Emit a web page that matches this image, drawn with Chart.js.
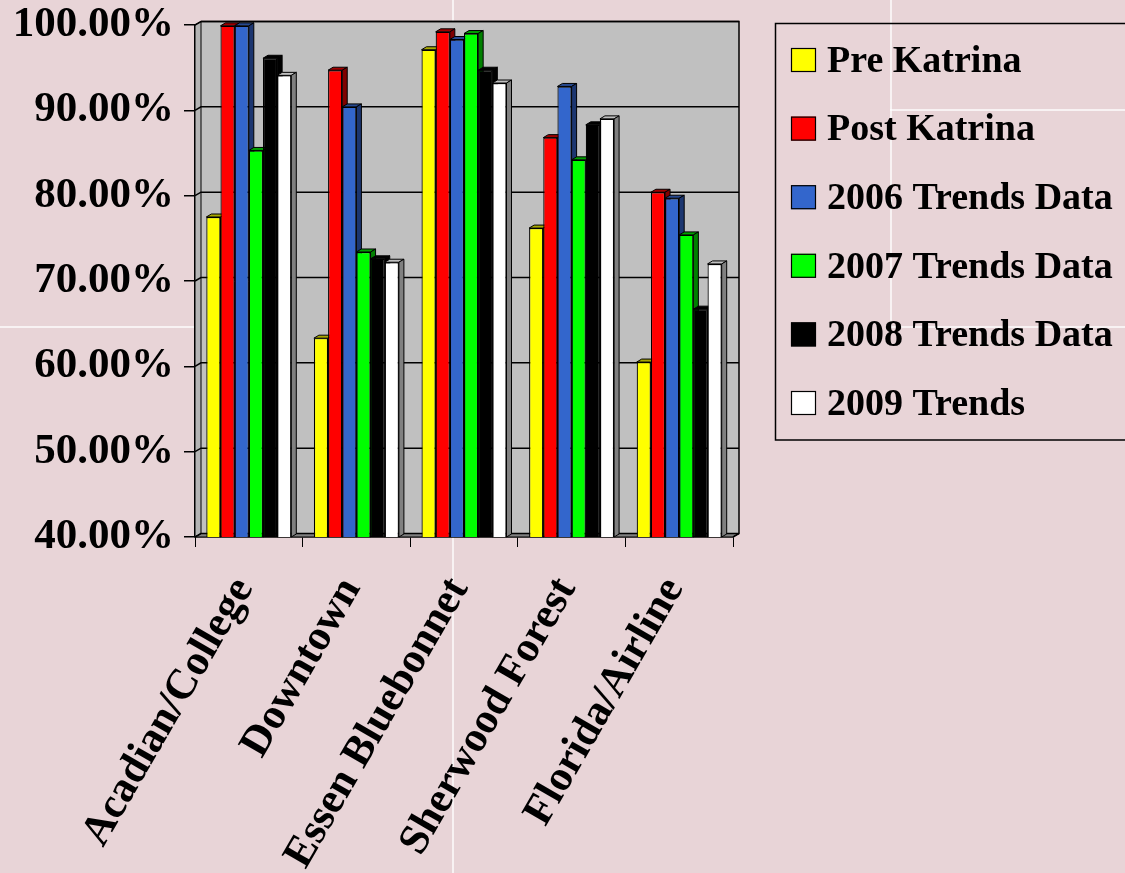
<!DOCTYPE html>
<html>
<head>
<meta charset="utf-8">
<script src="https://cdn.jsdelivr.net/npm/chart.js@4.4.1/dist/chart.umd.min.js"></script>
<style>
html,body{margin:0;padding:0;background:#E8D4D7;width:1125px;height:873px;overflow:hidden;}
#wrap{position:relative;width:1125px;height:873px;}
.ln{position:absolute;background:rgba(255,255,255,0.7);}
canvas{position:absolute;left:0;top:0;}
</style>
</head>
<body>
<div id="wrap">
<div class="ln" style="left:452px;top:0;width:2px;height:873px"></div>
<div class="ln" style="left:0;top:326px;width:453px;height:2px"></div>
<div class="ln" style="left:890px;top:0;width:2px;height:328px"></div>
<div class="ln" style="left:890px;top:326px;width:235px;height:2px"></div>
<div class="ln" style="left:890px;top:109px;width:235px;height:2px"></div>
<canvas id="c" width="1125" height="873"></canvas>
</div>
<script>
// ---- DATA ----
const categories = ['Acadian/College', 'Downtown', 'Essen Bluebonnet', 'Sherwood Forest', 'Florida/Airline'];
const seriesNames = ['Pre Katrina', 'Post Katrina', '2006 Trends Data', '2007 Trends Data', '2008 Trends Data', '2009 Trends'];
const preKatrina  = [77.5, 63.3, 97.1, 76.2, 60.5];
const postKatrina = [99.9, 94.7, 99.2, 86.8, 80.4];
const trends2006  = [99.9, 90.4, 98.3, 92.8, 79.7];
const trends2007  = [85.3, 73.4, 99.0, 84.2, 75.4];
const trends2008  = [96.1, 72.6, 94.7, 88.3, 66.7];
const trends2009  = [94.1, 72.2, 93.2, 89.0, 72.0];
const yMin = 40, yMax = 100, yStep = 10;

// ---- STYLES ----
const frontColors = ['#FFFF00', '#FF0000', '#3366CC', '#00FF00', '#000000', '#FFFFFF'];
const topColors   = ['#A8A800', '#A00000', '#27498F', '#00A000', '#000000', '#C0C0C0'];
const sideColors  = ['#808000', '#800000', '#1C3670', '#008000', '#000000', '#808080'];
const FONT = '"Liberation Serif", "Times New Roman", serif';
const BAR_DX = 5, BAR_DY = -3;
const WALL_DX = 6, WALL_DY = -3.5;

const seriesValues = [preKatrina, postKatrina, trends2006, trends2007, trends2008, trends2009];

const wallsPlugin = {
  id: 'walls',
  beforeDatasetsDraw(chart) {
    const ctx = chart.ctx, ca = chart.chartArea, ys = chart.scales.y;
    ctx.save();
    ctx.lineWidth = 1;
    ctx.strokeStyle = '#000';
    // back wall
    ctx.fillStyle = '#C0C0C0';
    ctx.fillRect(ca.left + WALL_DX, ca.top + WALL_DY, ca.right - ca.left, ca.bottom - ca.top);
    // left wall
    ctx.beginPath();
    ctx.moveTo(ca.left, ca.top);
    ctx.lineTo(ca.left + WALL_DX, ca.top + WALL_DY);
    ctx.lineTo(ca.left + WALL_DX, ca.bottom + WALL_DY);
    ctx.lineTo(ca.left, ca.bottom);
    ctx.closePath();
    ctx.fillStyle = '#B4B4B4';
    ctx.fill();
    ctx.stroke();
    // floor
    ctx.beginPath();
    ctx.moveTo(ca.left, ca.bottom);
    ctx.lineTo(ca.left + WALL_DX, ca.bottom + WALL_DY);
    ctx.lineTo(ca.right + WALL_DX, ca.bottom + WALL_DY);
    ctx.lineTo(ca.right, ca.bottom);
    ctx.closePath();
    ctx.fillStyle = '#808080';
    ctx.fill();
    ctx.stroke();
    // gridlines on walls
    ctx.lineWidth = 1.5;
    ys.ticks.forEach(t => {
      const py = ys.getPixelForValue(t.value);
      ctx.beginPath();
      ctx.moveTo(ca.left, py);
      ctx.lineTo(ca.left + WALL_DX, py + WALL_DY);
      ctx.lineTo(ca.right + WALL_DX, py + WALL_DY);
      ctx.stroke();
    });
    // back wall right edge & top
    ctx.beginPath();
    ctx.moveTo(ca.left + WALL_DX, ca.top + WALL_DY);
    ctx.lineTo(ca.right + WALL_DX, ca.top + WALL_DY);
    ctx.lineTo(ca.right + WALL_DX, ca.bottom + WALL_DY);
    ctx.lineTo(ca.right, ca.bottom);
    ctx.stroke();
    // 3D faces of bars, in series order
    ctx.lineWidth = 1;
    chart.data.datasets.forEach((ds, i) => {
      const meta = chart.getDatasetMeta(i);
      meta.data.forEach(bar => {
        const p = bar.getProps(['x', 'y', 'base', 'width'], true);
        const l = p.x - p.width / 2, r = p.x + p.width / 2, t = p.y;
        const b = Math.min(p.base, ca.bottom);
        // top face
        ctx.beginPath();
        ctx.moveTo(l, t);
        ctx.lineTo(l + BAR_DX, t + BAR_DY);
        ctx.lineTo(r + BAR_DX, t + BAR_DY);
        ctx.lineTo(r, t);
        ctx.closePath();
        ctx.fillStyle = topColors[i];
        ctx.fill();
        ctx.stroke();
        // side face
        ctx.beginPath();
        ctx.moveTo(r, t);
        ctx.lineTo(r + BAR_DX, t + BAR_DY);
        ctx.lineTo(r + BAR_DX, b + BAR_DY);
        ctx.lineTo(r, b);
        ctx.closePath();
        ctx.fillStyle = sideColors[i];
        ctx.fill();
        ctx.stroke();
      });
    });
    ctx.restore();
  },
  afterDraw(chart) {
    const ctx = chart.ctx;
    ctx.save();
    // legend
    ctx.strokeStyle = '#000';
    ctx.lineWidth = 1.5;
    ctx.strokeRect(775.5, 23.5, 420, 416.5);
    ctx.font = 'bold 38px ' + FONT;
    ctx.textBaseline = 'middle';
    ctx.textAlign = 'left';
    chart.data.datasets.forEach((ds, i) => {
      const cy = 60 + i * 68.6;
      ctx.fillStyle = ds.backgroundColor;
      ctx.fillRect(791, cy - 12, 25, 24);
      ctx.lineWidth = 1.2;
      ctx.strokeRect(791.5, cy - 11.5, 24, 23);
      ctx.fillStyle = '#000';
      ctx.fillText(ds.label, 827, cy + 2);
    });
    ctx.restore();
  }
};

const chart = new Chart(document.getElementById('c'), {
  type: 'bar',
  data: {
    labels: categories,
    datasets: seriesNames.map((name, i) => ({
      label: name,
      data: seriesValues[i],
      backgroundColor: frontColors[i],
      borderColor: '#000',
      borderWidth: 1.2,
      categoryPercentage: 0.79,
      barPercentage: 1.0
    }))
  },
  options: {
    responsive: false,
    animation: false,
    events: [],
    layout: { padding: { left: 0, right: 392, top: 25, bottom: 0 } },
    plugins: {
      legend: { display: false },
      tooltip: { enabled: false },
      title: { display: false }
    },
    scales: {
      x: {
        type: 'category',
        grid: { offset: true, drawOnChartArea: false, drawTicks: true, tickLength: 10, color: '#000', lineWidth: 1 },
        border: { display: true, color: '#000', width: 1.5 },
        ticks: {
          autoSkip: false, maxRotation: 60, minRotation: 60, padding: 22, labelOffset: -5,
          color: '#000', font: { family: FONT, size: 43, weight: 'bold' }
        },
        afterFit(scale) { scale.height = 336; scale.paddingLeft = 0; scale.paddingRight = 0; }
      },
      y: {
        min: yMin, max: yMax,
        grid: { drawOnChartArea: false, drawTicks: true, tickLength: 11, color: '#000', lineWidth: 1.5 },
        border: { display: true, color: '#000', width: 1.5 },
        ticks: {
          stepSize: yStep, padding: 10, color: '#000',
          font: { family: FONT, size: 43, weight: 'bold' },
          callback: v => v.toFixed(2) + '%'
        },
        afterFit(scale) { scale.width = 195; scale.paddingTop = 0; scale.paddingBottom = 0; }
      }
    }
  },
  plugins: [wallsPlugin]
});
</script>
</body>
</html>
